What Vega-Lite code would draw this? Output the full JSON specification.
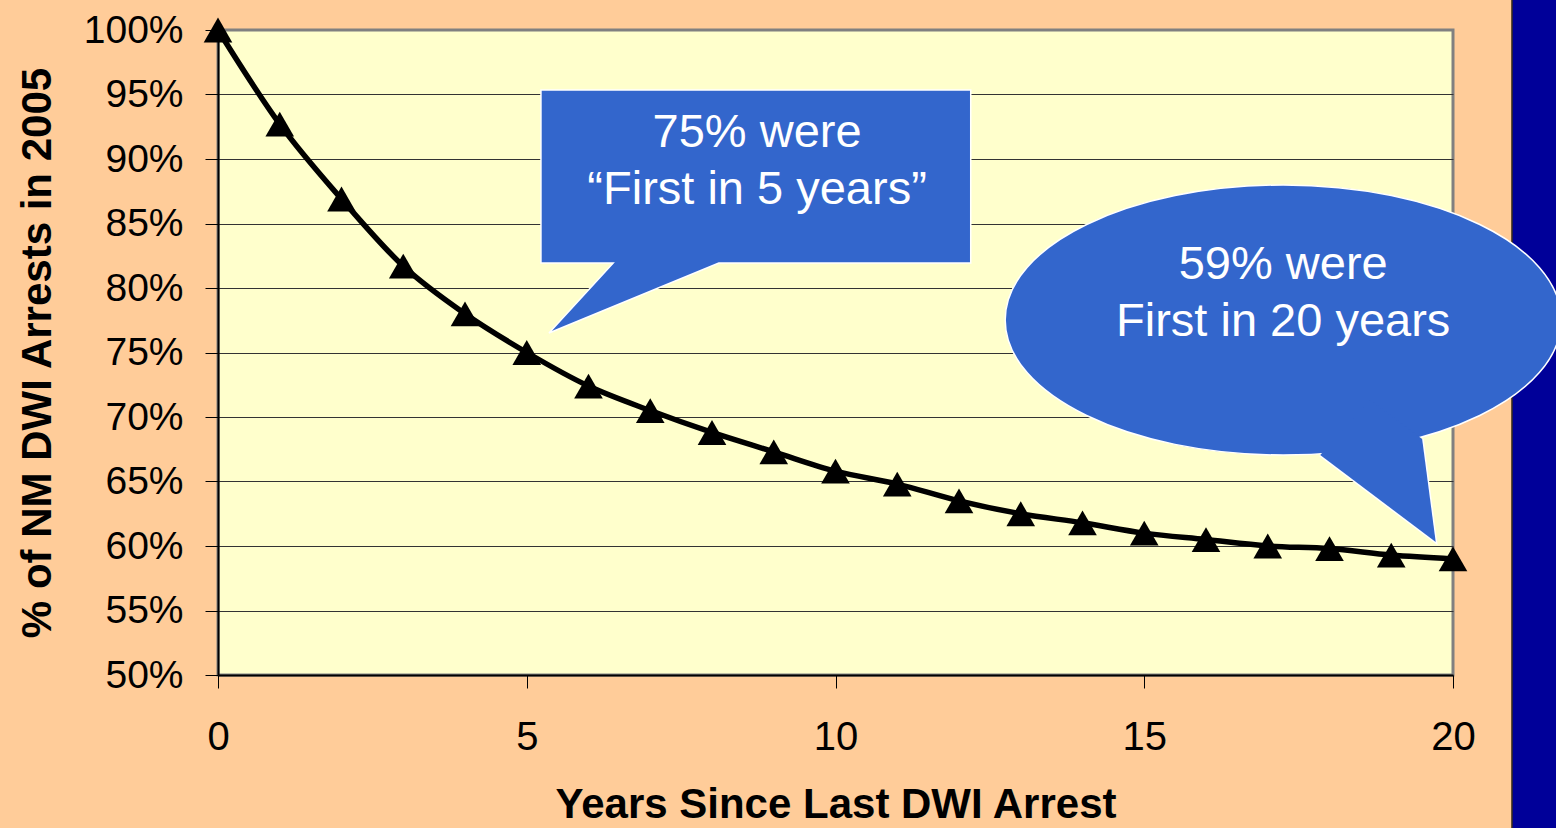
{
  "$schema": "https://vega.github.io/schema/vega-lite/v6.json",
  "width": 1235,
  "height": 645,
  "autosize": {"type": "none"},
  "padding": {"left": 218, "top": 30, "right": 103, "bottom": 153},
  "background": "#FFCC99",
  "config": {
    "view": {"fill": "#FFFFCC", "stroke": "#808080", "strokeWidth": 3},
    "font": "Liberation Sans"
  },
  "datasets": {
    "curve": [
      {"x": 0, "y": 100}, {"x": 1, "y": 92.7}, {"x": 2, "y": 86.9}, {"x": 3, "y": 81.7},
      {"x": 4, "y": 78.0}, {"x": 5, "y": 75.0}, {"x": 6, "y": 72.4}, {"x": 7, "y": 70.5},
      {"x": 8, "y": 68.8}, {"x": 9, "y": 67.3}, {"x": 10, "y": 65.8}, {"x": 11, "y": 64.8},
      {"x": 12, "y": 63.5}, {"x": 13, "y": 62.5}, {"x": 14, "y": 61.8}, {"x": 15, "y": 61.0},
      {"x": 16, "y": 60.5}, {"x": 17, "y": 60.0}, {"x": 18, "y": 59.8}, {"x": 19, "y": 59.3},
      {"x": 20, "y": 59.0}
    ],
    "band": [{"x": 20.955, "x2": 21.8, "y": 102.8, "y2": 37.5}],
    "box": [
      {"i": 0, "x": 5.23, "y": 95.35},
      {"i": 1, "x": 12.19, "y": 95.35},
      {"i": 2, "x": 12.19, "y": 81.94},
      {"i": 3, "x": 8.11, "y": 81.94},
      {"i": 4, "x": 5.36, "y": 76.51},
      {"i": 5, "x": 6.40, "y": 81.94},
      {"i": 6, "x": 5.23, "y": 81.94},
      {"i": 7, "x": 5.23, "y": 95.35},
      {"i": 8, "x": 12.19, "y": 95.35}
    ],
    "tail": [
      {"i": 0, "x": 17.85, "y": 67.05},
      {"i": 1, "x": 19.72, "y": 60.31},
      {"i": 2, "x": 19.50, "y": 68.29}
    ],
    "cover": [
      {"i": 0, "x": 17.85, "y": 67.05},
      {"i": 1, "x": 19.72, "y": 60.31},
      {"i": 2, "x": 19.50, "y": 68.29},
      {"i": 3, "x": 18.66, "y": 71.32}
    ],
    "bubble": [{"x": 17.25, "y": 77.52}],
    "labels": [
      {"x": 8.73, "y": 90.93, "t": "75% were\n“First in 5 years”"},
      {"x": 17.25, "y": 80.70, "t": "59% were\nFirst in 20 years"}
    ]
  },
  "encoding": {
    "x": {
      "field": "x",
      "type": "quantitative",
      "scale": {"domain": [0, 20], "nice": false, "zero": false},
      "axis": {
        "values": [0, 5, 10, 15, 20],
        "grid": false,
        "title": "Years Since Last DWI Arrest",
        "titleFontSize": 42,
        "titleFontWeight": "bold",
        "titleColor": "black",
        "titleBaseline": "alphabetic",
        "titleX": 617.5,
        "titleY": 142,
        "labelFontSize": 40,
        "labelColor": "black",
        "labelPadding": 29,
        "labelFlush": false,
        "tickSize": 13,
        "tickColor": "black",
        "tickWidth": 1,
        "domainColor": "black",
        "domainWidth": 2
      }
    },
    "y": {
      "field": "y",
      "type": "quantitative",
      "scale": {"domain": [50, 100], "nice": false, "zero": false},
      "axis": {
        "values": [50, 55, 60, 65, 70, 75, 80, 85, 90, 95, 100],
        "labelExpr": "datum.value + '%'",
        "grid": true,
        "gridColor": {"condition": {"test": "datum.value == 100 || datum.value == 50", "value": "transparent"}, "value": "#333333"},
        "gridWidth": 1,
        "title": "% of NM DWI Arrests in 2005",
        "titleFontSize": 42,
        "titleFontWeight": "bold",
        "titleColor": "black",
        "titleBaseline": "alphabetic",
        "titleAngle": -90,
        "titleX": -168,
        "titleY": 322.5,
        "labelFontSize": 39,
        "labelColor": "black",
        "labelPadding": 22,
        "labelFlush": false,
        "tickSize": 13,
        "tickColor": "black",
        "tickWidth": 1,
        "domainColor": "black",
        "domainWidth": 2
      }
    }
  },
  "layer": [
    {
      "data": {"name": "band"},
      "mark": {"type": "rect", "fill": "#000099", "stroke": "#3a2d18", "strokeWidth": 1.5, "clip": false},
      "encoding": {"x2": {"field": "x2"}, "y2": {"field": "y2"}}
    },
    {
      "data": {"name": "curve"},
      "mark": {"type": "line", "color": "black", "strokeWidth": 5.5, "interpolate": "monotone"},
      "encoding": {}
    },
    {
      "data": {"name": "curve"},
      "mark": {"type": "point", "shape": "triangle-up", "size": 820, "filled": true, "color": "black", "opacity": 1},
      "encoding": {}
    },
    {
      "data": {"name": "box"},
      "mark": {"type": "line", "fill": "#3366CC", "stroke": "white", "strokeWidth": 1.5, "strokeJoin": "miter"},
      "encoding": {"order": {"field": "i", "type": "quantitative"}}
    },
    {
      "data": {"name": "tail"},
      "mark": {"type": "line", "fill": "#3366CC", "stroke": "white", "strokeWidth": 3, "strokeJoin": "miter"},
      "encoding": {"order": {"field": "i", "type": "quantitative"}}
    },
    {
      "data": {"name": "bubble"},
      "mark": {
        "type": "point",
        "shape": "M -1 0 C -1 -0.2682 -0.5523 -0.4856 0 -0.4856 C 0.5523 -0.4856 1 -0.2682 1 0 C 1 0.2682 0.5523 0.4856 0 0.4856 C -0.5523 0.4856 -1 0.2682 -1 0 Z",
        "size": 309136,
        "filled": true,
        "fill": "#3366CC",
        "stroke": "white",
        "strokeWidth": 1.5,
        "opacity": 1
      },
      "encoding": {}
    },
    {
      "data": {"name": "cover"},
      "mark": {"type": "line", "fill": "#3366CC", "strokeWidth": 0, "strokeOpacity": 0},
      "encoding": {"order": {"field": "i", "type": "quantitative"}}
    },
    {
      "data": {"name": "labels"},
      "mark": {"type": "text", "font": "Liberation Sans", "fontSize": 47, "color": "white", "align": "center", "baseline": "alphabetic", "lineBreak": "\n", "lineHeight": 57},
      "encoding": {"text": {"field": "t", "type": "nominal"}}
    }
  ]
}
